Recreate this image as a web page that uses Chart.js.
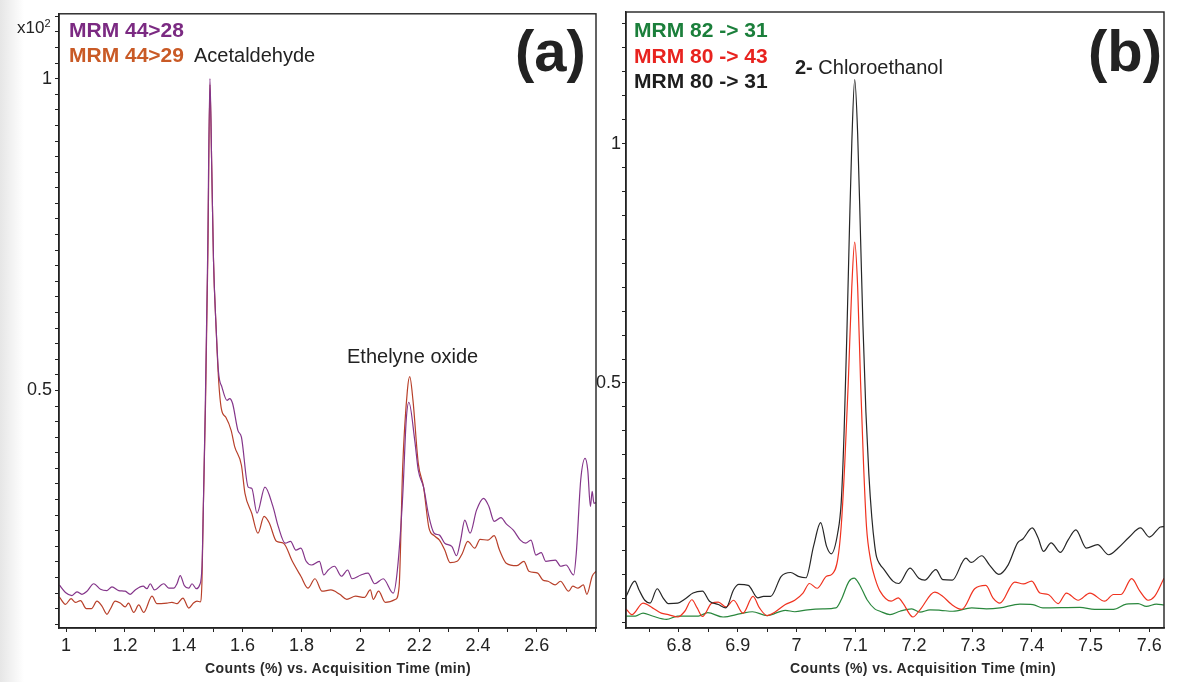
<!DOCTYPE html>
<html>
<head>
<meta charset="utf-8">
<script src="https://cdn.jsdelivr.net/npm/chart.js@4.4.1/dist/chart.umd.min.js"></script>
<style>
    html, body { margin: 0; padding: 0; }
    body {
        width: 1184px; height: 682px; position: relative; overflow: hidden;
        background: linear-gradient(to right, #e6e6e6 0px, #ffffff 24px);
        font-family: "Liberation Sans", Arial, sans-serif;
        color: #222;
    }
    canvas { position: absolute; top: 0; }
    #chartA { left: 0; }
    #chartB { left: 590px; }
    .lbl { position: absolute; white-space: nowrap; line-height: 1; }
    .mrm { font-weight: bold; font-size: 21px; }
    .big { font-weight: bold; font-size: 58px; color: #222; }
    .axt { font-weight: bold; font-size: 14px; letter-spacing: 0.4px; color: #2a2a2a; }
</style>
</head>
<body>
<canvas id="chartA" width="600" height="682"></canvas>
<canvas id="chartB" width="594" height="682"></canvas>

<div class="lbl" style="left:17px; top:19px; font-size:17px;">x10<span style="font-size:11px; position:relative; top:-6px;">2</span></div>
<div class="lbl mrm" style="left:69px; top:19px; color:#7b2a82;">MRM 44&gt;28</div>
<div class="lbl mrm" style="left:69px; top:44px; color:#c95a26;">MRM 44&gt;29</div>
<div class="lbl" style="left:194px; top:45px; font-size:20px;">Acetaldehyde</div>
<div class="lbl" style="left:347px; top:346px; font-size:20px;">Ethelyne oxide</div>
<div class="lbl big" style="left:515px; top:22px;">(a)</div>
<div class="lbl axt" style="left:205px; top:661px;">Counts (%) vs. Acquisition Time (min)</div>

<div class="lbl mrm" style="left:634px; top:19px; color:#1b7f3b;">MRM 82 -&gt; 31</div>
<div class="lbl mrm" style="left:634px; top:45px; color:#e8231f;">MRM 80 -&gt; 43</div>
<div class="lbl mrm" style="left:634px; top:70px; color:#1e1e1e;">MRM 80 -&gt; 31</div>
<div class="lbl" style="left:795px; top:57px; font-size:20px;"><b>2-</b> Chloroethanol</div>
<div class="lbl big" style="left:1088px; top:22px;">(b)</div>
<div class="lbl axt" style="left:790px; top:661px;">Counts (%) vs. Acquisition Time (min)</div>

<script>
// panel (a): acetaldehyde / ethylene oxide, counts x10^2 vs time (min)
const timeA28 = [0.977,0.998,1.020,1.037,1.054,1.071,1.094,1.117,1.139,1.156,1.179,1.201,1.218,1.235,1.262,1.275,1.286,1.300,1.332,1.349,1.366,1.377,1.388,1.402,1.417,1.428,1.443,1.454,1.462,1.466,1.473,1.481,1.489,1.495,1.501,1.510,1.518,1.530,1.547,1.556,1.566,1.584,1.596,1.619,1.631,1.649,1.676,1.703,1.721,1.745,1.763,1.781,1.798,1.816,1.834,1.861,1.876,1.891,1.912,1.936,1.957,1.972,2.002,2.026,2.049,2.078,2.112,2.126,2.144,2.156,2.165,2.185,2.197,2.215,2.233,2.251,2.269,2.287,2.311,2.327,2.341,2.355,2.373,2.395,2.419,2.437,2.455,2.478,2.496,2.520,2.544,2.562,2.580,2.597,2.615,2.630,2.663,2.681,2.699,2.725,2.734,2.749,2.764,2.773,2.782,2.788,2.794,2.801];
const countsA28 = [0.188,0.176,0.171,0.177,0.173,0.178,0.190,0.181,0.179,0.185,0.179,0.178,0.173,0.180,0.186,0.182,0.190,0.180,0.190,0.183,0.183,0.190,0.203,0.187,0.183,0.190,0.182,0.188,0.218,0.30,0.47,0.71,1.0,0.86,0.71,0.60,0.53,0.505,0.484,0.487,0.479,0.436,0.425,0.345,0.343,0.303,0.345,0.314,0.282,0.255,0.258,0.244,0.247,0.226,0.220,0.226,0.204,0.212,0.218,0.202,0.212,0.198,0.204,0.207,0.190,0.198,0.175,0.212,0.330,0.452,0.481,0.420,0.372,0.345,0.298,0.271,0.268,0.255,0.250,0.235,0.260,0.292,0.271,0.308,0.327,0.314,0.290,0.296,0.286,0.276,0.260,0.255,0.260,0.236,0.240,0.226,0.228,0.218,0.220,0.204,0.239,0.356,0.391,0.372,0.314,0.338,0.319,0.320];

const timeA29 = [0.977,0.998,1.017,1.032,1.049,1.069,1.086,1.105,1.122,1.139,1.150,1.167,1.184,1.201,1.212,1.230,1.247,1.264,1.292,1.309,1.343,1.360,1.377,1.397,1.417,1.433,1.445,1.456,1.462,1.466,1.474,1.482,1.489,1.495,1.501,1.510,1.518,1.528,1.543,1.561,1.573,1.596,1.608,1.631,1.652,1.673,1.691,1.715,1.739,1.769,1.798,1.822,1.846,1.870,1.900,1.930,1.954,1.984,2.014,2.034,2.044,2.062,2.085,2.120,2.132,2.144,2.160,2.168,2.179,2.197,2.215,2.233,2.251,2.269,2.287,2.305,2.329,2.347,2.365,2.389,2.407,2.434,2.455,2.473,2.496,2.532,2.556,2.573,2.603,2.620,2.638,2.662,2.680,2.708,2.722,2.740,2.758,2.770,2.788,2.801];
const countsA29 = [0.169,0.157,0.166,0.160,0.163,0.150,0.150,0.162,0.154,0.141,0.149,0.162,0.159,0.153,0.159,0.144,0.156,0.144,0.170,0.158,0.159,0.160,0.158,0.167,0.151,0.159,0.162,0.161,0.196,0.30,0.48,0.72,0.99,0.86,0.71,0.60,0.52,0.47,0.457,0.436,0.410,0.380,0.335,0.303,0.271,0.298,0.287,0.258,0.255,0.226,0.202,0.183,0.198,0.178,0.180,0.173,0.165,0.170,0.168,0.180,0.165,0.178,0.160,0.165,0.186,0.377,0.500,0.522,0.484,0.383,0.345,0.280,0.267,0.260,0.244,0.224,0.226,0.239,0.258,0.247,0.261,0.260,0.267,0.244,0.223,0.219,0.226,0.210,0.207,0.196,0.194,0.188,0.194,0.178,0.186,0.183,0.188,0.173,0.202,0.210];

// panel (b): 2-chloroethanol
const timeB8231 = [6.710,6.726,6.739,6.755,6.779,6.798,6.833,6.849,6.875,6.905,6.925,6.950,6.981,6.997,7.019,7.045,7.067,7.076,7.089,7.098,7.107,7.120,7.133,7.142,7.159,7.176,7.196,7.210,7.227,7.245,7.266,7.298,7.323,7.346,7.380,7.402,7.419,7.482,7.507,7.539,7.561,7.581,7.595,7.612,7.625];
const countsB8231 = [0.013,0.013,0.019,0.013,0.006,0.013,0.013,0.020,0.011,0.018,0.022,0.014,0.025,0.022,0.026,0.028,0.030,0.047,0.085,0.092,0.079,0.047,0.028,0.023,0.016,0.023,0.028,0.021,0.026,0.025,0.023,0.030,0.028,0.030,0.038,0.037,0.030,0.031,0.027,0.027,0.038,0.039,0.033,0.038,0.036];

const timeB8043 = [6.710,6.720,6.739,6.755,6.770,6.782,6.798,6.810,6.822,6.831,6.840,6.856,6.867,6.880,6.893,6.909,6.926,6.937,6.950,6.963,6.981,6.997,7.011,7.022,7.035,7.051,7.060,7.070,7.076,7.082,7.088,7.094,7.099,7.104,7.109,7.114,7.119,7.126,7.134,7.142,7.161,7.173,7.181,7.198,7.210,7.235,7.248,7.264,7.281,7.303,7.322,7.334,7.346,7.371,7.386,7.400,7.414,7.428,7.445,7.459,7.479,7.499,7.524,7.539,7.552,7.570,7.584,7.598,7.609,7.625];
const countsB8043 = [0.028,0.016,0.040,0.030,0.019,0.016,0.011,0.023,0.047,0.030,0.012,0.040,0.042,0.032,0.046,0.019,0.054,0.030,0.014,0.021,0.037,0.046,0.061,0.081,0.071,0.096,0.100,0.131,0.20,0.33,0.50,0.70,0.794,0.70,0.50,0.33,0.20,0.13,0.090,0.065,0.044,0.051,0.040,0.011,0.026,0.063,0.055,0.037,0.027,0.070,0.077,0.051,0.040,0.084,0.080,0.086,0.061,0.058,0.039,0.061,0.046,0.061,0.044,0.058,0.058,0.091,0.065,0.046,0.054,0.092];

const timeB8031 = [6.710,6.725,6.732,6.742,6.751,6.763,6.773,6.782,6.798,6.811,6.824,6.840,6.852,6.867,6.880,6.893,6.902,6.918,6.934,6.944,6.956,6.974,6.990,7.003,7.016,7.029,7.041,7.051,7.059,7.070,7.076,7.081,7.086,7.090,7.094,7.099,7.104,7.109,7.113,7.118,7.123,7.128,7.133,7.136,7.142,7.149,7.164,7.174,7.193,7.208,7.218,7.237,7.249,7.265,7.288,7.297,7.315,7.328,7.344,7.360,7.376,7.385,7.401,7.411,7.420,7.433,7.449,7.462,7.475,7.493,7.512,7.531,7.547,7.566,7.585,7.600,7.619,7.625];
const countsB8031 = [0.054,0.086,0.068,0.046,0.040,0.070,0.051,0.039,0.040,0.049,0.061,0.065,0.044,0.037,0.030,0.068,0.079,0.077,0.051,0.054,0.054,0.096,0.104,0.096,0.093,0.159,0.208,0.159,0.143,0.186,0.25,0.40,0.62,0.82,1.0,1.134,1.02,0.80,0.62,0.44,0.31,0.22,0.16,0.137,0.121,0.110,0.086,0.081,0.113,0.092,0.088,0.110,0.089,0.088,0.134,0.125,0.139,0.120,0.100,0.120,0.166,0.174,0.197,0.176,0.148,0.166,0.146,0.172,0.193,0.155,0.162,0.141,0.155,0.178,0.197,0.178,0.199,0.200];

// tick labels
const xLabelsA = [1, 1.2, 1.4, 1.6, 1.8, 2, 2.2, 2.4, 2.6];
const yLabelsA = [0.5, 1];
const xLabelsB = [6.8, 6.9, 7, 7.1, 7.2, 7.3, 7.4, 7.5, 7.6];
const yLabelsB = [0.5, 1];

const INK = '#222';
const TICK_FONT = { family: '"Liberation Sans", Arial, sans-serif', size: 18 };

function toPoints(times, values) {
    return times.map((t, i) => ({ x: t, y: values[i] }));
}

// keep only ticks on the step grid
function snapTicks(step) {
    return function(scale) {
        scale.ticks = scale.ticks.filter(t => Math.abs(t.value / step - Math.round(t.value / step)) < 1e-6);
    };
}

function labelFrom(list) {
    return function(value) {
        const hit = list.find(v => Math.abs(v - value) < 1e-6);
        return hit === undefined ? '' : String(hit);
    };
}

function trace(data, color) {
    return {
        data: data,
        borderColor: color,
        borderWidth: 1.2,
        pointRadius: 0,
        fill: false,
        cubicInterpolationMode: 'monotone'
    };
}

const frame = {
    id: 'frame',
    afterDraw(chart) {
        const a = chart.chartArea;
        const ctx = chart.ctx;
        ctx.save();
        ctx.strokeStyle = INK;
        ctx.lineWidth = 1.4;
        ctx.strokeRect(a.left, a.top, a.right - a.left, a.bottom - a.top);
        ctx.restore();
    }
};

function makeChart(id, opts) {
    return new Chart(document.getElementById(id).getContext('2d'), {
        type: 'line',
        data: { datasets: opts.datasets },
        options: {
            responsive: false,
            animation: false,
            events: [],
            layout: { padding: { left: 0, top: 12, right: opts.padRight, bottom: 0 } },
            plugins: { legend: { display: false }, tooltip: { enabled: false } },
            scales: {
                x: {
                    type: 'linear',
                    min: opts.xMin,
                    max: opts.xMax,
                    afterFit: function(scale) { scale.height = 54; },
                    afterBuildTicks: snapTicks(opts.xStep),
                    grid: { drawOnChartArea: false, drawTicks: true, tickLength: 4, tickColor: INK, tickWidth: 1 },
                    border: { display: true, color: INK, width: 1.4 },
                    ticks: {
                        stepSize: opts.xStep,
                        includeBounds: false,
                        autoSkip: false,
                        maxRotation: 0,
                        minRotation: 0,
                        padding: 3,
                        color: INK,
                        font: TICK_FONT,
                        callback: labelFrom(opts.xLabels)
                    }
                },
                y: {
                    type: 'linear',
                    min: opts.yMin,
                    max: opts.yMax,
                    afterFit: function(scale) { scale.width = opts.yWidth; },
                    afterBuildTicks: snapTicks(opts.yStep),
                    grid: { drawOnChartArea: false, drawTicks: true, tickLength: 4, tickColor: INK, tickWidth: 1 },
                    border: { display: true, color: INK, width: 1.4 },
                    ticks: {
                        stepSize: opts.yStep,
                        includeBounds: false,
                        autoSkip: false,
                        padding: opts.yPad,
                        color: INK,
                        font: TICK_FONT,
                        callback: labelFrom(opts.yLabels)
                    }
                }
            }
        },
        plugins: [frame]
    });
}

makeChart('chartA', {
    datasets: [
        trace(toPoints(timeA28, countsA28), '#84358a'),
        trace(toPoints(timeA29, countsA29), '#b8402a')
    ],
    xMin: 0.976, xMax: 2.801, xStep: 0.1, xLabels: xLabelsA,
    yMin: 0.119, yMax: 1.104, yStep: 0.025, yLabels: yLabelsA,
    yWidth: 59, yPad: 3, padRight: 4
});

makeChart('chartB', {
    datasets: [
        trace(toPoints(timeB8031, countsB8031), '#262626'),
        trace(toPoints(timeB8043, countsB8043), '#f0321f'),
        trace(toPoints(timeB8231, countsB8231), '#2a873d')
    ],
    xMin: 6.710, xMax: 7.625, xStep: 0.05, xLabels: xLabelsB,
    yMin: -0.012, yMax: 1.275, yStep: 0.05, yLabels: yLabelsB,
    yWidth: 36, yPad: 1, padRight: 20
});
</script>
</body>
</html>
